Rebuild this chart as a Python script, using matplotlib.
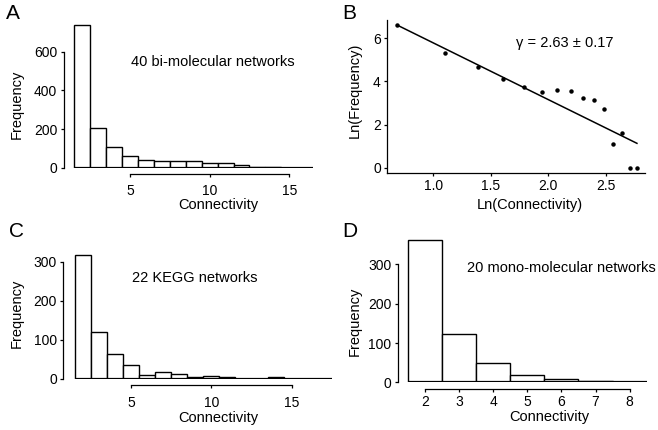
import matplotlib
matplotlib.use("Agg")
import matplotlib.pyplot as plt

plt.rcParams['font.family'] = ['Liberation Sans', 'DejaVu Sans']
plt.rcParams['axes.linewidth'] = 0.9

# panel A: 40 bi-molecular networks
conn_a = [2, 3, 4, 5, 6, 7, 8, 9, 10, 11, 12, 13, 14, 15, 16]
freq_a = [740, 205, 107, 62, 41, 33, 37, 35, 26, 22, 15, 3, 5, 1, 1]

# panel B: log-log of panel A
ln_conn = [0.69, 1.10, 1.39, 1.61, 1.79, 1.95, 2.08, 2.20, 2.30, 2.40, 2.48, 2.56, 2.64, 2.71, 2.77]
ln_freq = [6.62, 5.33, 4.67, 4.12, 3.72, 3.49, 3.60, 3.55, 3.24, 3.12, 2.73, 1.10, 1.60, 0.0, 0.0]
fit_x = [0.69, 2.77]
fit_y = [6.60, 1.13]

# panel C: 22 KEGG networks
conn_c = [2, 3, 4, 5, 6, 7, 8, 9, 10, 11, 12, 13, 14]
freq_c = [318, 120, 64, 37, 11, 19, 13, 4, 7, 5, 0, 0, 4]

# panel D: 20 mono-molecular networks
conn_d = [2, 3, 4, 5, 6, 7, 8]
freq_d = [362, 124, 48, 19, 8, 3, 1]

W, H = 658, 430
fig = plt.figure(figsize=(W / 100, H / 100), dpi=100)


def px_axes(left, top, right, bottom):
    return fig.add_axes([left / W, 1 - bottom / H, (right - left) / W, (bottom - top) / H])


def histo(ax, conn, freq, xlim, ylim, ybounds, xbounds, xticks, yticks, note, note_xy, xpad=2):
    ax.bar(conn, freq, width=1.0, color='white', edgecolor='black', linewidth=1.0, zorder=2)
    ax.hlines(0, conn[0] - 0.5, xlim[1], color='black', linewidth=1.6, zorder=3)
    ax.set_xlim(*xlim)
    ax.set_ylim(*ylim)
    for s in ['top', 'right']:
        ax.spines[s].set_visible(False)
    ax.spines['bottom'].set_position(('outward', 4.5))
    ax.spines['bottom'].set_bounds(*xbounds)
    ax.spines['left'].set_bounds(*ybounds)
    ax.set_xticks(xticks)
    ax.set_yticks(yticks)
    ax.tick_params(axis='both', direction='out', length=2.5, width=0.9, labelsize=10, pad=2)
    ax.tick_params(axis='x', pad=xpad)
    ax.text(note_xy[0], note_xy[1], note, fontsize=10.5, ha='left', va='center')
    ax.set_xlabel('Connectivity', fontsize=10.5)
    ax.set_ylabel('Frequency', fontsize=10.5)


# A
ax_a = px_axes(63.5, 20.8, 313.3, 167.7)
histo(ax_a, conn_a, freq_a, (0.84, 16.5), (0, 760), (0, 600), (5, 15),
      [5, 10, 15], [0, 200, 400, 600], '40 bi-molecular networks', (5.1, 548), xpad=5)
ax_a.xaxis.set_label_coords(0.618, -0.254)
ax_a.yaxis.set_label_coords(-0.186, 0.434)

# B
ax_b = px_axes(387, 20, 645, 172.7)
ax_b.plot(ln_conn, ln_freq, 'o', color='black', markersize=2.2, zorder=3)
ax_b.plot(fit_x, fit_y, color='black', linewidth=1.1)
ax_b.set_xlim(0.6, 2.84)
ax_b.set_ylim(-0.23, 6.84)
for s in ['top', 'right']:
    ax_b.spines[s].set_visible(False)
ax_b.set_xticks([1.0, 1.5, 2.0, 2.5])
ax_b.set_xticklabels(['1.0', '1.5', '2.0', '2.5'])
ax_b.set_yticks([0, 2, 4, 6])
ax_b.tick_params(axis='both', direction='out', length=2.5, width=0.9, labelsize=10, pad=2)
ax_b.text(2.14, 5.77, u'\u03b3 = 2.63 \u00b1 0.17', fontsize=10.5, ha='center', va='center')
ax_b.set_xlabel('Ln(Connectivity)', fontsize=10.5)
ax_b.set_ylabel('Ln(Frequency)', fontsize=10.5)
ax_b.xaxis.set_label_coords(0.554, -0.212)
ax_b.yaxis.set_label_coords(-0.124, 0.542)

# C
ax_c = px_axes(63.3, 250, 332, 379)
histo(ax_c, conn_c, freq_c, (0.8, 17.5), (0, 330), (0, 300), (5, 15),
      [5, 10, 15], [0, 100, 200, 300], '22 KEGG networks', (5.05, 259), xpad=5)
ax_c.xaxis.set_label_coords(0.576, -0.302)
ax_c.yaxis.set_label_coords(-0.172, 0.51)

# D
ax_d = px_axes(397.7, 233, 646.7, 382.3)
histo(ax_d, conn_d, freq_d, (1.2, 8.5), (0, 380), (0, 300), (2, 8),
      [2, 3, 4, 5, 6, 7, 8], [0, 100, 200, 300], '20 mono-molecular networks', (3.22, 292))
ax_d.xaxis.set_label_coords(0.608, -0.232)
ax_d.yaxis.set_label_coords(-0.171, 0.406)

for ax in [ax_a, ax_b, ax_c, ax_d]:
    ax.xaxis.label.set_verticalalignment('center')
    ax.yaxis.label.set_verticalalignment('center')

# panel letters
for letter, x, y in [('A', 6, 4), ('B', 342, 4), ('C', 9, 222), ('D', 342, 222)]:
    fig.text(x / W, 1 - y / H, letter, fontsize=15, ha='left', va='top')

fig.savefig('out.png', dpi=100)
